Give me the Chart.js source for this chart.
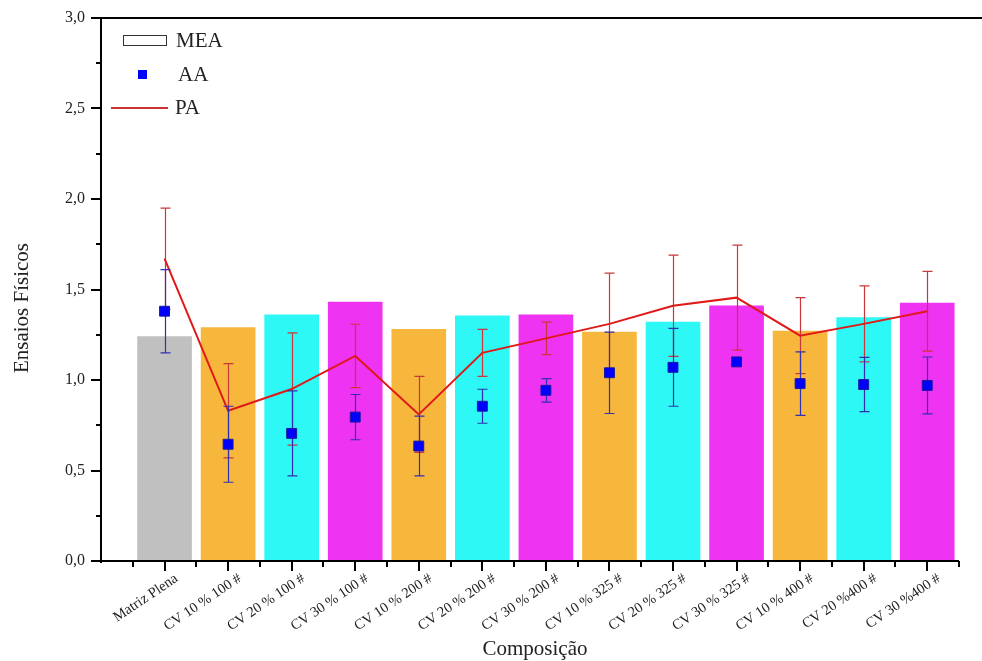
<!DOCTYPE html>
<html>
<head>
<meta charset="utf-8">
<script src="https://cdn.jsdelivr.net/npm/chart.js@4/dist/chart.umd.min.js"></script>
<style>
  html, body { margin: 0; padding: 0; background: #fff; }
  #wrap { width: 982px; height: 661px; }
</style>
</head>
<body>
<div id="wrap"><canvas id="c" width="982" height="661"></canvas></div>
<script>
// Composições
const categories = [
  'Matriz Plena', 'CV 10 % 100 #', 'CV 20 % 100 #', 'CV 30 % 100 #',
  'CV 10 % 200 #', 'CV 20 % 200 #', 'CV 30 % 200 #',
  'CV 10 % 325 #', 'CV 20 % 325 #', 'CV 30 % 325 #',
  'CV 10 % 400 #', 'CV 20 %400 #', 'CV 30 %400 #'
];
// MEA (barras)
const mea = [1.24, 1.29, 1.36, 1.43, 1.28, 1.355, 1.36, 1.265, 1.32, 1.41, 1.27, 1.345, 1.425];
// AA (quadrados) e desvio
const aa = [1.38, 0.645, 0.705, 0.795, 0.635, 0.855, 0.943, 1.04, 1.07, 1.10, 0.98, 0.975, 0.97];
const aaErr = [0.23, 0.21, 0.235, 0.125, 0.165, 0.094, 0.065, 0.225, 0.215, 0, 0.175, 0.15, 0.157];
// PA (linha) e desvio
const pa = [1.67, 0.83, 0.95, 1.133, 0.81, 1.15, 1.23, 1.31, 1.41, 1.455, 1.245, 1.31, 1.38];
const paErr = [0.28, 0.26, 0.31, 0.175, 0.21, 0.13, 0.09, 0.28, 0.28, 0.29, 0.21, 0.21, 0.22];
// Eixo Y
const yTicks = [0, 0.5, 1.0, 1.5, 2.0, 2.5, 3.0];

const SERIF = '"Liberation Serif", "Times New Roman", serif';
const barColors = categories.map((c, i) => i === 0 ? '#c0c0c0' : ['#f6b73c', '#2ef8f6', '#ee33f2'][(i - 1) % 3]);
const pts = arr => arr.map((v, i) => ({ x: i, y: v }));

// Barras de erro desenhadas antes da série correspondente
const errorBars = {
  id: 'errorBars',
  beforeDatasetDraw(chart, args) {
    const ds = chart.data.datasets[args.index];
    if (!ds.errors) return;
    const { ctx, scales: { x, y } } = chart;
    ctx.save();
    ctx.strokeStyle = ds.errorColor;
    ctx.lineWidth = 1.2;
    ds.data.forEach((p, i) => {
      const e = ds.errors[i];
      if (!e) return;
      const px = Math.round(x.getPixelForValue(p.x)) + 0.5;
      const top = y.getPixelForValue(p.y + e);
      const bot = y.getPixelForValue(p.y - e);
      ctx.beginPath();
      ctx.moveTo(px, top); ctx.lineTo(px, bot);
      ctx.moveTo(px - 5, top); ctx.lineTo(px + 5, top);
      ctx.moveTo(px - 5, bot); ctx.lineTo(px + 5, bot);
      ctx.stroke();
    });
    ctx.restore();
  }
};

// Eixos, marcas, títulos e legenda
const frame = {
  id: 'frame',
  afterDraw(chart) {
    const { ctx, chartArea: a, scales: { x, y } } = chart;
    ctx.save();
    ctx.strokeStyle = '#000';
    ctx.lineWidth = 2;
    ctx.beginPath();
    ctx.moveTo(a.left, a.top); ctx.lineTo(chart.width, a.top);
    ctx.moveTo(a.left, a.top - 1); ctx.lineTo(a.left, a.bottom + 2);
    ctx.moveTo(a.left - 1, a.bottom); ctx.lineTo(a.right, a.bottom);
    // marcas do eixo Y
    for (let v = 0; v <= 3.0001; v += 0.25) {
      const py = Math.round(y.getPixelForValue(v));
      const major = Math.abs(v * 2 - Math.round(v * 2)) < 1e-6;
      ctx.moveTo(a.left, py); ctx.lineTo(a.left - (major ? 10 : 5), py);
    }
    // marcas do eixo X
    for (let v = -0.5; v <= 12.5001; v += 0.5) {
      const px = Math.round(x.getPixelForValue(v));
      const major = Number.isInteger(v);
      ctx.moveTo(px, a.bottom); ctx.lineTo(px, a.bottom + (major ? 10 : 6));
    }
    ctx.stroke();

    // títulos dos eixos
    ctx.fillStyle = '#222';
    ctx.font = '21px ' + SERIF;
    ctx.textAlign = 'center';
    ctx.textBaseline = 'middle';
    ctx.fillText('Composição', (a.left + a.right) / 2 + 5, 649);
    ctx.save();
    ctx.translate(22, 308);
    ctx.rotate(-Math.PI / 2);
    ctx.fillText('Ensaios Físicos', 0, 0);
    ctx.restore();

    // legenda
    const ds = chart.data.datasets;
    const lx = a.left, ly = a.top;
    ctx.font = '21px ' + SERIF;
    ctx.textAlign = 'left';
    ctx.textBaseline = 'middle';
    // MEA
    ctx.fillStyle = '#fff';
    ctx.strokeStyle = '#333';
    ctx.lineWidth = 1;
    ctx.fillRect(lx + 22.5, ly + 17.5, 43, 10);
    ctx.strokeRect(lx + 22.5, ly + 17.5, 43, 10);
    ctx.fillStyle = '#222';
    ctx.fillText(ds[0].label, lx + 75, ly + 23);
    // AA
    ctx.fillStyle = '#0000ff';
    ctx.fillRect(lx + 37, ly + 52, 9, 9);
    ctx.fillStyle = '#222';
    ctx.fillText(ds[2].label, lx + 77, ly + 57);
    // PA
    ctx.strokeStyle = '#c83232';
    ctx.lineWidth = 2;
    ctx.beginPath();
    ctx.moveTo(lx + 10, ly + 90); ctx.lineTo(lx + 67, ly + 90);
    ctx.stroke();
    ctx.fillText(ds[1].label, lx + 74, ly + 90);
    ctx.restore();
  }
};

new Chart(document.getElementById('c'), {
  type: 'bar',
  data: {
    datasets: [
      {
        type: 'bar',
        label: 'MEA',
        data: pts(mea),
        backgroundColor: barColors,
        borderWidth: 0,
        barThickness: ctx => ctx.dataIndex === 0 ? 58 : 54,
        grouped: false,
        order: 3
      },
      {
        type: 'line',
        label: 'PA',
        data: pts(pa),
        errors: paErr,
        errorColor: '#c8383a',
        borderColor: '#e01818',
        borderWidth: 2,
        pointRadius: 0,
        tension: 0,
        order: 2
      },
      {
        type: 'line',
        label: 'AA',
        data: pts(aa),
        errors: aaErr,
        errorColor: '#3030b0',
        showLine: false,
        pointStyle: 'rect',
        pointRadius: 7,
        pointBackgroundColor: '#0000ff',
        pointBorderColor: '#1a1a9a',
        pointBorderWidth: 1,
        order: 1
      }
    ]
  },
  options: {
    responsive: false,
    animation: false,
    events: [],
    layout: { padding: { top: 18, right: 23, left: 0, bottom: 0 } },
    plugins: { legend: { display: false }, tooltip: { enabled: false } },
    scales: {
      x: {
        type: 'linear',
        min: -1,
        max: 12.5,
        offset: false,
        grid: { display: false, drawTicks: false },
        border: { display: false },
        afterFit: s => { s.height = 100; s.paddingTop = 0; s.paddingLeft = 0; s.paddingRight = 0; },
        afterBuildTicks: s => {
          const t = [];
          for (let v = -1; v <= 12.5; v += 0.5) t.push({ value: v });
          s.ticks = t;
        },
        ticks: {
          autoSkip: false,
          minRotation: 34,
          maxRotation: 34,
          padding: 9,
          labelOffset: 12,
          color: '#222',
          font: { family: SERIF, size: 14.5 },
          callback: v => (Number.isInteger(v) && v >= 0) ? categories[v] : ''
        }
      },
      y: {
        min: 0,
        max: 3,
        grid: { display: false, drawTicks: false },
        border: { display: false },
        afterFit: s => { s.width = 101; s.paddingTop = 0; s.paddingBottom = 0; },
        afterBuildTicks: s => { s.ticks = yTicks.map(v => ({ value: v })); },
        ticks: {
          padding: 16,
          color: '#222',
          font: { family: SERIF, size: 16 },
          callback: v => v.toFixed(1).replace('.', ',')
        }
      }
    }
  },
  plugins: [errorBars, frame]
});
</script>
</body>
</html>
